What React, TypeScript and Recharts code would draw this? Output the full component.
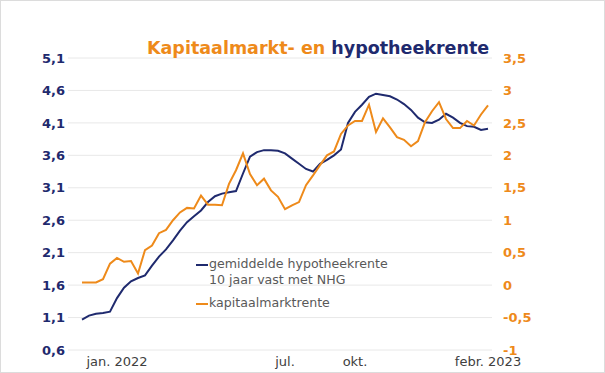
import React from 'react';
import { LineChart, Line, XAxis, YAxis, CartesianGrid } from 'recharts';

// weekly observations, jan. 2022 - febr. 2023
const hypotheekrente = [
  1.07, 1.13, 1.16, 1.17, 1.19, 1.40, 1.56, 1.66, 1.71, 1.75,
  1.90, 2.04, 2.15, 2.29, 2.44, 2.57, 2.66, 2.75, 2.88, 2.97,
  3.01, 3.03, 3.05, 3.32, 3.58, 3.65, 3.68, 3.68, 3.67, 3.63,
  3.55, 3.47, 3.39, 3.35, 3.47, 3.53, 3.60, 3.69, 4.10, 4.27,
  4.38, 4.50, 4.55, 4.53, 4.51, 4.46, 4.39, 4.30, 4.18, 4.11,
  4.10, 4.15, 4.24, 4.18, 4.10, 4.05, 4.04, 3.99, 4.01,
];

const kapitaalmarktrente = [
  0.04, 0.04, 0.04, 0.09, 0.33, 0.42, 0.36, 0.37, 0.18, 0.54,
  0.61, 0.80, 0.85, 1.00, 1.12, 1.19, 1.18, 1.38, 1.24, 1.24,
  1.23, 1.56, 1.77, 2.03, 1.71, 1.54, 1.64, 1.46, 1.36, 1.17,
  1.23, 1.28, 1.54, 1.69, 1.85, 2.00, 2.06, 2.33, 2.46, 2.53,
  2.53, 2.78, 2.36, 2.57, 2.43, 2.28, 2.24, 2.14, 2.22, 2.51,
  2.68, 2.82, 2.56, 2.42, 2.42, 2.53, 2.46, 2.63, 2.77,
];

const xTickIndex = [5, 29, 39, 58];
const xTickLabels = ['jan. 2022', 'jul.', 'okt.', 'febr. 2023'];

const leftTicks = [0.6, 1.1, 1.6, 2.1, 2.6, 3.1, 3.6, 4.1, 4.6, 5.1];
const rightTicks = [-1, -0.5, 0, 0.5, 1, 1.5, 2, 2.5, 3, 3.5];

const NAVY = '#1f2a6e';
const ORANGE = '#ee8a1a';
const FONT = '"DejaVu Sans", Verdana, sans-serif';

const data = hypotheekrente.map((h, i) => ({
  i,
  hypotheek: h,
  kapitaal: kapitaalmarktrente[i],
}));

const komma = (v: number) => String(v).replace('.', ',');

const LegendBox = () => (
  <div style={{ position: 'absolute', left: 195, top: 255, fontFamily: FONT, fontSize: 12.6, color: '#595959', lineHeight: '16px', zIndex: 2 }}>
    <div style={{ display: 'flex' }}>
      <span style={{ display: 'inline-block', width: 12, height: 2, background: NAVY, marginTop: 8, marginRight: 1 }} />
      <span>gemiddelde hypotheekrente<br />10 jaar vast met NHG</span>
    </div>
    <div style={{ display: 'flex', marginTop: 7 }}>
      <span style={{ display: 'inline-block', width: 12, height: 2, background: ORANGE, marginTop: 8, marginRight: 1 }} />
      <span>kapitaalmarktrente</span>
    </div>
  </div>
);

export default function App() {
  return (
    <div style={{ position: 'absolute', left: 0, top: 0, width: 605, height: 373, background: '#fff', border: '1px solid #dcdcdc', boxSizing: 'border-box', overflow: 'hidden' }}>
      <div style={{ position: 'absolute', left: 146, top: 37, fontFamily: FONT, fontWeight: 'bold', fontSize: 17.5, whiteSpace: 'nowrap', zIndex: 2 }}>
        <span style={{ color: ORANGE }}>Kapitaalmarkt- en </span>
        <span style={{ color: NAVY }}>hypotheekrente</span>
      </div>
      <LegendBox />
      <div style={{ position: 'absolute', left: -1, top: -1 }}>
        <LineChart width={605} height={373} data={data} margin={{ top: 58, right: 0, bottom: 0, left: 0 }}>
          <CartesianGrid yAxisId="left" vertical={false} stroke="#e8e8e8" />
          <XAxis
            dataKey="i"
            type="number"
            domain={[0, 58]}
            padding={{ left: 14, right: 4 }}
            ticks={xTickIndex}
            tickFormatter={(v: number) => xTickLabels[xTickIndex.indexOf(v)]}
            axisLine={false}
            tickLine={false}
            tickSize={0}
            tickMargin={7}
            height={23}
            tick={{ fill: '#404040', fontSize: 13, fontFamily: FONT }}
          />
          <YAxis
            yAxisId="left"
            domain={[0.6, 5.1]}
            ticks={leftTicks}
            tickFormatter={komma}
            axisLine={false}
            tickLine={false}
            tickSize={0}
            tickMargin={3}
            width={68}
            tick={{ fill: NAVY, fontSize: 13, fontWeight: 'bold', fontFamily: FONT }}
          />
          <YAxis
            yAxisId="right"
            orientation="right"
            domain={[-1, 3.5]}
            ticks={rightTicks}
            tickFormatter={komma}
            axisLine={false}
            tickLine={false}
            tickSize={0}
            tickMargin={11}
            width={113}
            tick={{ fill: ORANGE, fontSize: 13, fontWeight: 'bold', fontFamily: FONT, textAnchor: 'start' }}
          />
          <Line yAxisId="left" dataKey="hypotheek" stroke={NAVY} strokeWidth={2} dot={false} type="linear" isAnimationActive={false} />
          <Line yAxisId="right" dataKey="kapitaal" stroke={ORANGE} strokeWidth={2} dot={false} type="linear" isAnimationActive={false} />
        </LineChart>
      </div>
    </div>
  );
}
